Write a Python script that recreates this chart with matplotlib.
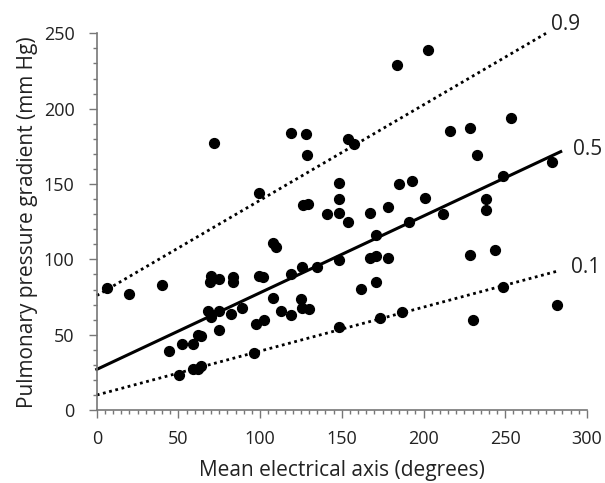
import matplotlib
matplotlib.use("Agg")
import matplotlib.pyplot as plt
from matplotlib.ticker import MultipleLocator

# scatter data
axis_deg = [6, 20, 40, 44.5, 52, 50.5, 59, 62, 64, 59, 62, 64, 68, 70, 69, 70, 75, 75, 75, 72,
            82, 83.5, 83.5, 89, 96, 97.5, 102.5, 99.5, 99, 102, 108, 109.5, 108, 112.5, 119,
            119, 119, 125, 125.5, 125.5, 130, 128, 128.5, 126.5, 129.5, 134.5, 141, 148, 148,
            148, 148, 148, 154, 157.5, 153.5, 162, 167, 167, 171, 171, 171, 173.5, 178, 178,
            183.5, 185, 187, 191, 193, 201, 202.5, 212, 216, 228.5, 228.5, 230, 233, 238, 238,
            243.5, 248.5, 248.5, 253.5, 278.5, 281.5]
gradient = [81, 77, 83, 39, 44, 23, 44, 50, 49, 27, 27, 29, 66, 62, 85, 89, 87, 66, 53, 177,
            64, 88, 85, 68, 38, 57, 60, 144, 89, 88, 111, 108, 74.5, 66, 90,
            63, 184, 74, 95, 67.5, 67, 183, 169, 136, 137, 95, 130, 131, 140,
            151, 99.5, 55, 180, 176.5, 125, 80.5, 131, 101, 116, 102, 85, 61, 135, 101,
            229, 150, 65, 125, 152, 141, 239, 130, 185, 187, 103, 60, 169, 140, 132.5,
            106, 155, 81.5, 193.5, 164.5, 69.5]

# quantile lines: label, start and end points
quant_labels = ["0.9", "0.5", "0.1"]
quant_x0 = [0, 0, 0]
quant_y0 = [76, 27, 10]
quant_x1 = [275, 284, 283]
quant_y1 = [250, 171.5, 92.5]

# look of each quantile line and where its label sits past the line end
quant_styles = [(0, (1, 1.3)), "-", (0, (1, 1.3))]
quant_widths = [2.0, 2.2, 2.0]
label_dx = [3, 7.5, 7]
label_dy = [6, 1.5, 2]

fig = plt.figure(figsize=(6.05, 4.83), dpi=100)
ax = fig.add_axes([0.16, 0.151, 0.81, 0.78])

for i, lab in enumerate(quant_labels):
    ax.plot([quant_x0[i], quant_x1[i]], [quant_y0[i], quant_y1[i]], color="black",
            linestyle=quant_styles[i], linewidth=quant_widths[i], clip_on=False)
    ax.text(quant_x1[i] + label_dx[i], quant_y1[i] + label_dy[i], lab, fontsize=15,
            family="Open Sans", va="center", ha="left", color="#222222", clip_on=False)

ax.scatter(axis_deg, gradient, s=50, color="black", zorder=3, clip_on=False)

ax.set_xlim(0, 300)
ax.set_ylim(0, 250)
ax.xaxis.set_major_locator(MultipleLocator(50))
ax.xaxis.set_minor_locator(MultipleLocator(5))
ax.yaxis.set_major_locator(MultipleLocator(50))
ax.yaxis.set_minor_locator(MultipleLocator(10))

for s in ["top", "right"]:
    ax.spines[s].set_visible(False)
for s in ["left", "bottom"]:
    ax.spines[s].set_color("#777777")
    ax.spines[s].set_linewidth(1.2)

ax.tick_params(which="major", direction="out", length=6, width=1, color="#777777",
               labelsize=13, labelcolor="#222222")
ax.tick_params(which="minor", direction="out", length=3.2, width=1, color="#777777")
ax.tick_params(axis="x", which="major", pad=8)
ax.tick_params(axis="y", which="major", pad=10)
for lbl in ax.get_xticklabels() + ax.get_yticklabels():
    lbl.set_family("Open Sans")

ax.set_xlabel("Mean electrical axis (degrees)", fontsize=15, family="Open Sans",
              color="#222222", labelpad=9)
ax.set_ylabel("Pulmonary pressure gradient (mm Hg)", fontsize=15, family="Open Sans",
              color="#222222", labelpad=4)

fig.savefig("out.png", dpi=100)
